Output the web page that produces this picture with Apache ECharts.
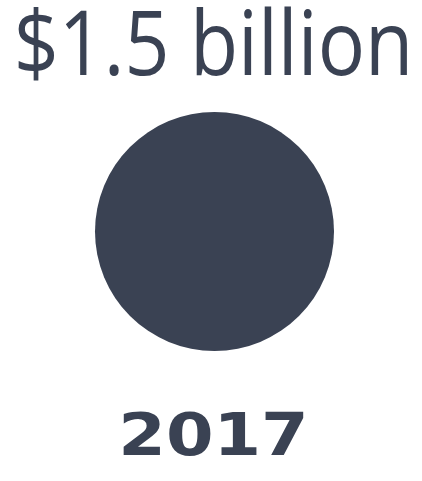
<!DOCTYPE html>
<html><head><meta charset="utf-8">
<script src="https://cdn.jsdelivr.net/npm/echarts@6/dist/echarts.min.js"></script>
<style>html,body{margin:0;padding:0;background:#fff}#c{width:422px;height:481px}</style>
</head><body><div id="c"></div>
<script>
var categories = ['2017'];
var values = [1.5];
var valueLabels = ['$1.5 billion'];
var color = '#3a4253';
var chart = echarts.init(document.getElementById('c'), null, {renderer: 'canvas'});
chart.setOption({
  animation: false,
  graphic: [
    {type: 'text', x: 213.5, y: 49, scaleX: 0.875,
      style: {text: valueLabels[0], fill: color, font: '400 90px "Open Sans"', textAlign: 'center', textVerticalAlign: 'middle'}},
    {type: 'text', x: 213.5, y: 439.5, scaleX: 1.16,
      style: {text: categories[0], fill: color, font: '700 59px "DejaVu Sans"', textAlign: 'center', textVerticalAlign: 'middle'}}
  ],
  series: [{
    type: 'pie',
    center: [214.5, 231.5],
    radius: [0, 119.5],
    silent: true,
    label: {show: false},
    labelLine: {show: false},
    itemStyle: {color: color},
    data: categories.map(function (c, i) { return {name: c, value: values[i]}; })
  }]
});
</script></body></html>
